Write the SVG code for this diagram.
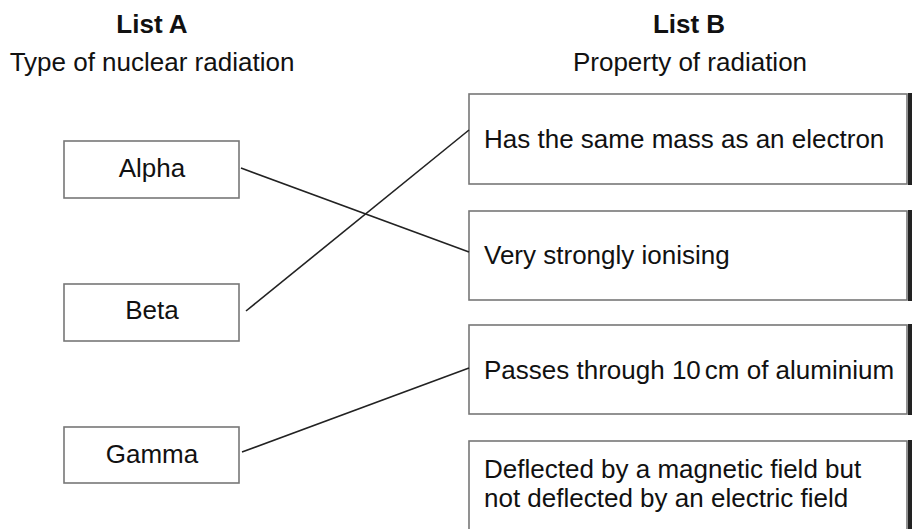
<svg xmlns="http://www.w3.org/2000/svg" width="915" height="529" viewBox="0 0 915 529">
<style>
text{font-family:"Liberation Sans",Arial,sans-serif;font-size:26px;fill:#111}
.h{font-weight:bold}
.c{text-anchor:middle}
.box{fill:#fff;stroke:#777;stroke-width:1.6}
.edge{fill:#222}
.conn line{stroke:#222;stroke-width:1.6}
</style>
<rect width="915" height="529" fill="#fff"/>
<g id="headers">
<text class="h c" x="152" y="33">List A</text>
<text class="c" x="152" y="71">Type of nuclear radiation</text>
<text class="h c" x="689" y="33">List B</text>
<text class="c" x="690" y="71">Property of radiation</text>
</g>
<g id="alpha"><rect class="box" x="64" y="141" width="175" height="57"/><text class="c" x="152" y="177">Alpha</text></g>
<g id="beta"><rect class="box" x="64" y="284" width="175" height="57"/><text class="c" x="152" y="319">Beta</text></g>
<g id="gamma"><rect class="box" x="64" y="427" width="175" height="56"/><text class="c" x="152" y="463">Gamma</text></g>
<g id="b1"><rect class="box" x="469" y="94" width="438" height="90"/><rect class="edge" x="908" y="93" width="4" height="92"/><text x="484" y="148">Has the same mass as an electron</text></g>
<g id="b2"><rect class="box" x="469" y="211" width="438" height="89"/><rect class="edge" x="908" y="210" width="4" height="91"/><text x="484" y="264">Very strongly ionising</text></g>
<g id="b3"><rect class="box" x="469" y="325" width="438" height="89"/><rect class="edge" x="908" y="324" width="4" height="91"/><text x="484" y="379">Passes through 10<tspan dx="4">cm of aluminium</tspan></text></g>
<g id="b4"><rect class="box" x="469" y="441" width="438" height="100"/><rect class="edge" x="908" y="440" width="4" height="100"/><text x="484" y="478">Deflected by a magnetic field but</text><text x="484" y="507">not deflected by an electric field</text></g>
<g id="connectors" class="conn">
<line x1="241" y1="168" x2="469" y2="252"/>
<line x1="246" y1="311" x2="469" y2="130"/>
<line x1="242" y1="452" x2="469" y2="368"/>
</g>
</svg>
